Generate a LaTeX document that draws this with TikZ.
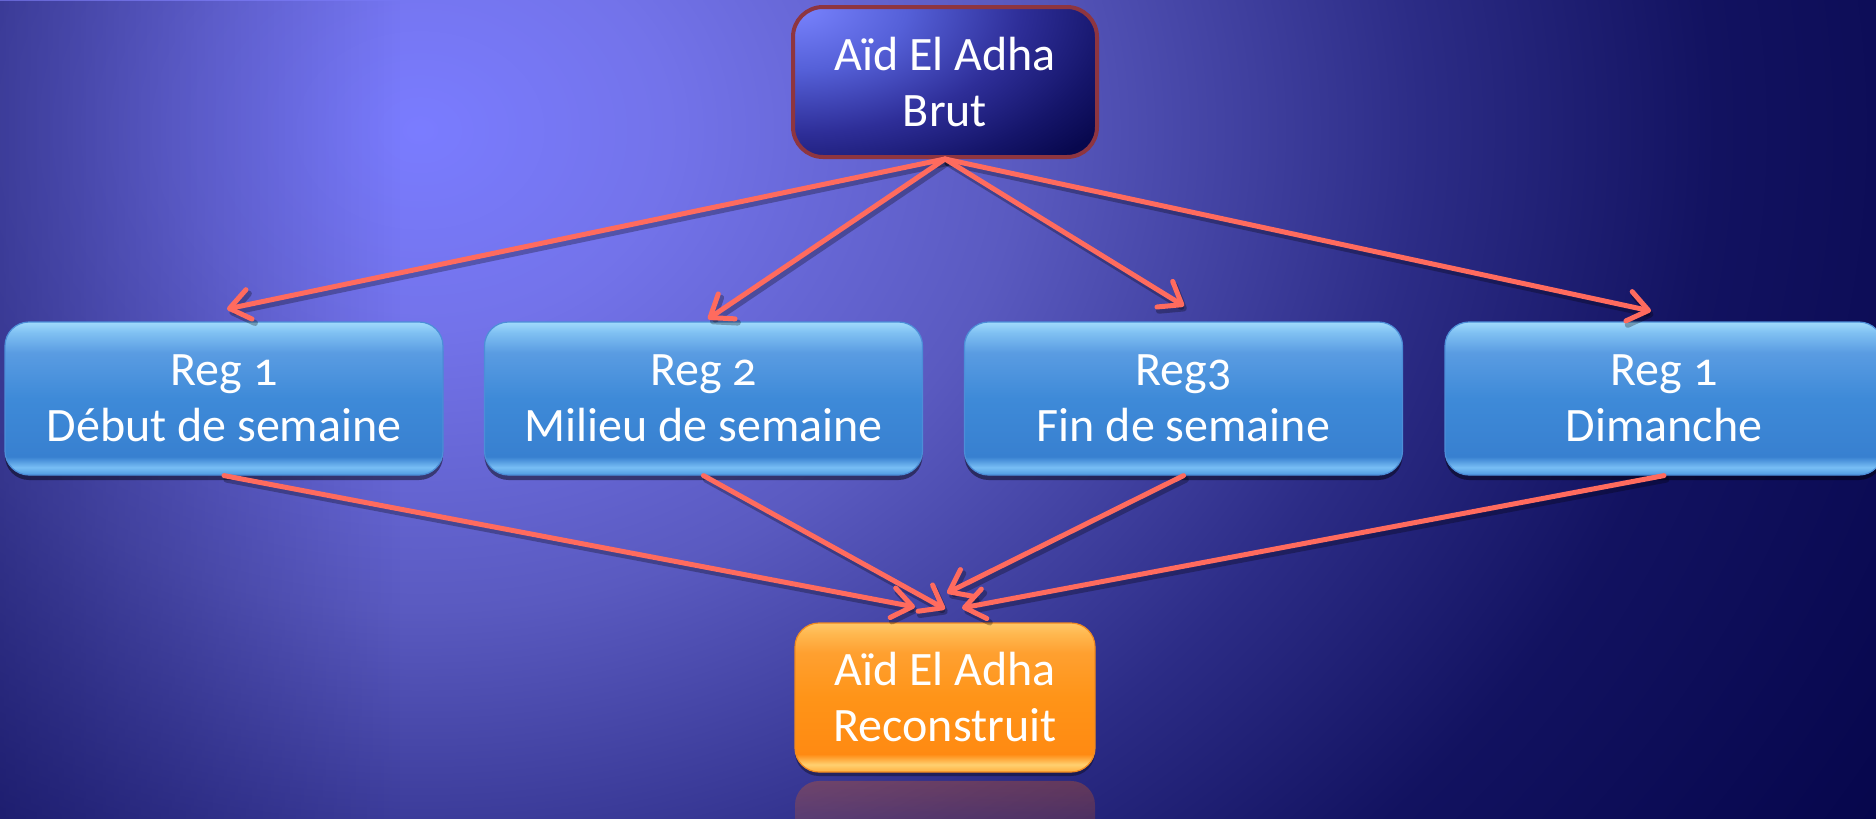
\documentclass[tikz,border=0pt]{standalone}
\usepackage{fontspec}
\newfontfamily\dfont[Numbers=OldStyle]{Carlito}
\usetikzlibrary{arrows.meta,shadows,fadings,calc}

\definecolor{bgA}{HTML}{7A7CFF}
\definecolor{bgB}{HTML}{7373EA}
\definecolor{bgC}{HTML}{5A5AC0}
\definecolor{bgD}{HTML}{2C2C86}
\definecolor{bgE}{HTML}{121260}
\definecolor{bgF}{HTML}{06064C}
\definecolor{bgdark}{HTML}{05054A}

\definecolor{tA}{HTML}{7A84FF}
\definecolor{tB}{HTML}{5560D8}
\definecolor{tC}{HTML}{2E2E98}
\definecolor{tD}{HTML}{15156A}
\definecolor{tE}{HTML}{08084E}
\definecolor{topborder}{HTML}{8E3540}

\definecolor{rb0}{HTML}{4E9AE0}
\definecolor{rb1}{HTML}{78BEF5}
\definecolor{rb2}{HTML}{3880D0}
\definecolor{rb3}{HTML}{3E8AD8}
\definecolor{rb4}{HTML}{5A9CE2}
\definecolor{rb5}{HTML}{7FC0F2}
\definecolor{rb6}{HTML}{A0DAFC}
\definecolor{regborder}{HTML}{4C8ED8}

\definecolor{ob0}{HTML}{FFB040}
\definecolor{ob1}{HTML}{FFD070}
\definecolor{ob2}{HTML}{FF8A12}
\definecolor{ob3}{HTML}{FF9418}
\definecolor{ob4}{HTML}{FFA030}
\definecolor{ob5}{HTML}{FFB850}
\definecolor{ob6}{HTML}{FFC868}
\definecolor{orborder}{HTML}{F08A20}

\definecolor{arrowc}{HTML}{FF6B5E}

% path bounding box corresponds to the central 25bp radius / 25..75bp band
\pgfdeclareradialshading{bgsh}{\pgfpoint{0bp}{0bp}}{color(0bp)=(bgA); color(3.1bp)=(bgB); color(7.5bp)=(bgC); color(12.5bp)=(bgD); color(16.2bp)=(bgE); color(21.2bp)=(bgF); color(50bp)=(bgF)}
\pgfdeclareradialshading{topsh}{\pgfpoint{0bp}{0bp}}{color(0bp)=(tA); color(7.5bp)=(tB); color(15bp)=(tC); color(21bp)=(tD); color(25bp)=(tE); color(50bp)=(tE)}
\pgfdeclareverticalshading{regsh}{100bp}{color(0bp)=(rb0); color(25bp)=(rb0); color(27.5bp)=(rb1); color(31bp)=(rb2); color(50bp)=(rb3); color(65bp)=(rb4); color(71.5bp)=(rb5); color(75bp)=(rb6); color(100bp)=(rb6)}
\pgfdeclareverticalshading{orsh}{100bp}{color(0bp)=(ob0); color(25bp)=(ob0); color(27.5bp)=(ob1); color(31bp)=(ob2); color(50bp)=(ob3); color(65bp)=(ob4); color(71.5bp)=(ob5); color(75bp)=(ob6); color(100bp)=(ob6)}

\tikzfading[name=vigleft, left color=transparent!0, right color=transparent!100]
\tikzfading[name=reflfade, top color=transparent!0, bottom color=transparent!100]

\tikzset{
  boxtext/.style={text=white, align=center, font={\dfont\fontsize{24}{28}\selectfont}},
  topbox/.style={boxtext, rectangle, rounded corners=15pt, minimum width=152pt, minimum height=75pt,
    fill=tE, draw=topborder, line width=2pt,
    path picture={\shade[shading=topsh] (path picture bounding box.north west) ellipse (380 and 210);}},
  regbox/.style={boxtext, rectangle, rounded corners=12pt, minimum width=219pt, minimum height=76.5pt,
    shade, shading=regsh, draw=regborder, line width=0.6pt,
    drop shadow={shadow xshift=0pt, shadow yshift=-2.5pt, opacity=0.45, fill=black}},
  orbox/.style={boxtext, rectangle, rounded corners=12pt, minimum width=150pt, minimum height=74.5pt,
    shade, shading=orsh, draw=orborder, line width=0.6pt,
    drop shadow={shadow xshift=0pt, shadow yshift=-2pt, opacity=0.35, fill=black}},
  conn/.style={draw=arrowc, line width=2.5pt, line cap=round,
    -{Straight Barb[length=10pt, width=15pt, round]}},
  connshadow/.style={draw=black, draw opacity=0.28, line width=3pt, line cap=round,
    -{Straight Barb[length=10pt, width=15pt, round]}}
}

\begin{document}
\begin{tikzpicture}[x=0.5pt, y=-0.5pt]
\useasboundingbox (0,0) rectangle (1876,819);

% background
\begin{scope}
  \clip (0,0) rectangle (1876,819);
  \shade[shading=bgsh] (420,130) ellipse (2000 and 1600);
  \fill[bgdark, fill opacity=0.75, path fading=vigleft] (-300,0) rectangle (400,819);
\end{scope}

% nodes
\node[topbox] (top) at (945,82) {Aïd El Adha\\Brut};
\node[regbox] (r1) at (224,398.5) {Reg 1\\Début de semaine};
\node[regbox] (r2) at (703.5,398.5) {Reg 2\\Milieu de semaine};
\node[regbox] (r3) at (1183.5,398.5) {Reg3\\Fin de semaine};
\node[regbox] (r4) at (1664,398.5) {Reg 1\\Dimanche};
\node[orbox] (bot) at (945,697.5) {Aïd El Adha\\Reconstruit};

% reflection of the bottom box
\fill[orange!80!red, fill opacity=0.28, path fading=reflfade, rounded corners=12pt] (795,781) rectangle (1095,900);

% arrow end points
\coordinate (a1) at (227,309);
\coordinate (a2) at (708,319);
\coordinate (a3) at (1184,306);
\coordinate (a4) at (1651,311);
\coordinate (t1) at (915,607);
\coordinate (t2) at (945,609);
\coordinate (t3) at (947,593);
\coordinate (t4) at (962,608);

% shadows of connectors
\begin{scope}[transform canvas={shift={(1.2pt,-2pt)}}]
  \foreach \a in {a1,a2,a3,a4} {\draw[connshadow] (top.south) -- (\a);}
  \draw[connshadow] (r1.south) -- (t1);
  \draw[connshadow] (r2.south) -- (t2);
  \draw[connshadow] (r3.south) -- (t3);
  \draw[connshadow] (r4.south) -- (t4);
\end{scope}

% connectors
\foreach \a in {a1,a2,a3,a4} {\draw[conn] (top.south) -- (\a);}
\draw[conn] (r1.south) -- (t1);
\draw[conn] (r2.south) -- (t2);
\draw[conn] (r3.south) -- (t3);
\draw[conn] (r4.south) -- (t4);
\end{tikzpicture}
\end{document}
